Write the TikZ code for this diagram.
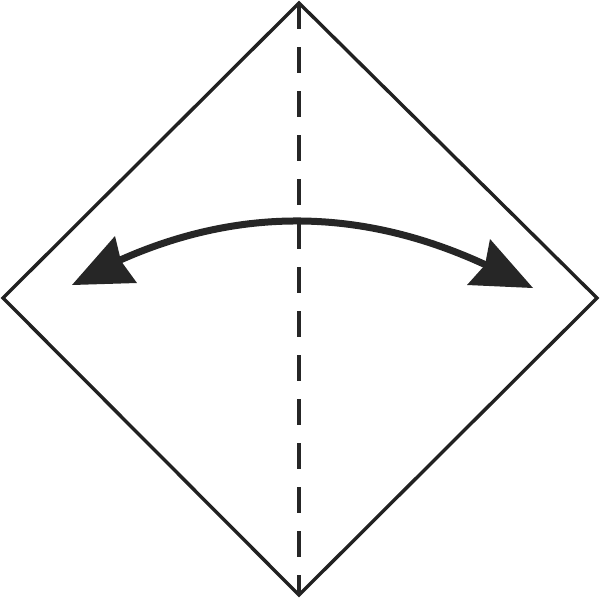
\documentclass[tikz,border=0pt]{standalone}
\begin{document}
\begin{tikzpicture}[x=1pt,y=-1pt,
  edge/.style={draw=black!87,line width=3.4pt,line join=miter},
  foldline/.style={draw=black!85,line width=3.6pt,dash pattern=on 26pt off 18pt},
  arcline/.style={draw=black!85,line width=7pt},
  headfill/.style={fill=black!85}]
\useasboundingbox (0,0) rectangle (600,600);
\coordinate (T) at (299,3);
\coordinate (L) at (3,298);
\coordinate (R) at (597,298);
\coordinate (B) at (299,595);
\coordinate (AL) at (118,261);
\coordinate (AR) at (486,265);
\draw[edge] (T) -- (R) -- (B) -- (L) -- cycle;
\draw[foldline] (T) -- (B);
\draw[arcline] (AL) .. controls (240,206) and (363,208) .. (AR);
\fill[headfill] (72,285) -- (115,236) -- (121,261) -- (137,283) -- cycle;
\fill[headfill] (533,288) -- (490,239) -- (485,265) -- (467,285) -- cycle;
\end{tikzpicture}
\end{document}
